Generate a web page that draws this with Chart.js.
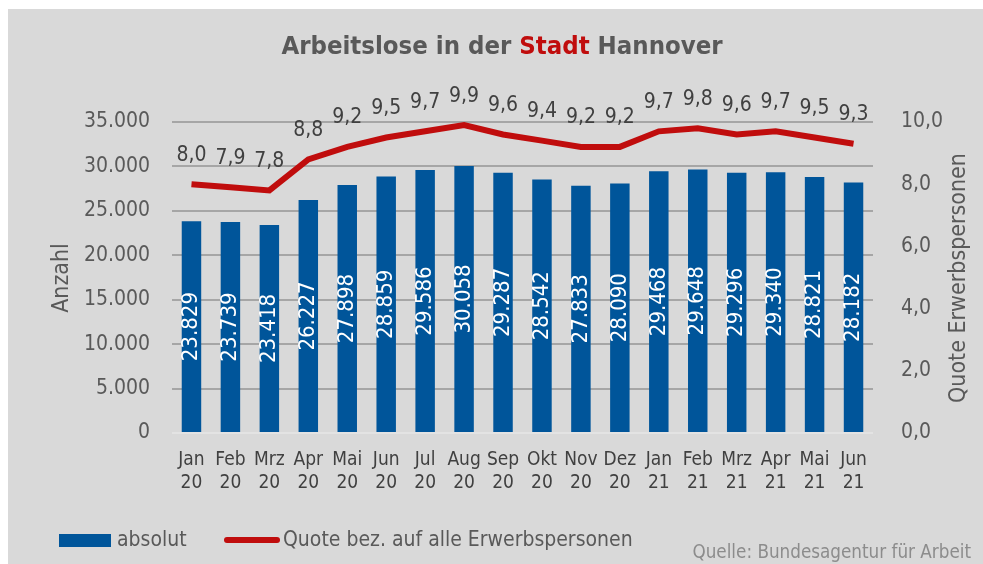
<!DOCTYPE html>
<html>
<head>
<meta charset="utf-8">
<script src="https://cdn.jsdelivr.net/npm/chart.js@4"></script>
<style>
  html, body { margin: 0; padding: 0; background: #fff; }
  #wrap { width: 983px; height: 564px; }
</style>
</head>
<body>
<div id="wrap"><canvas id="chart" width="983" height="564"></canvas></div>
<script>
const months = ['Jan', 'Feb', 'Mrz', 'Apr', 'Mai', 'Jun', 'Jul', 'Aug', 'Sep', 'Okt', 'Nov', 'Dez',
                'Jan', 'Feb', 'Mrz', 'Apr', 'Mai', 'Jun'];
const years = ['20', '20', '20', '20', '20', '20', '20', '20', '20', '20', '20', '20',
               '21', '21', '21', '21', '21', '21'];
const absolut = [23829, 23739, 23418, 26227, 27898, 28859, 29586, 30058, 29287, 28542, 27833, 28090,
                 29468, 29648, 29296, 29340, 28821, 28182];
const quote = [8.0, 7.9, 7.8, 8.8, 9.2, 9.5, 9.7, 9.9, 9.6, 9.4, 9.2, 9.2, 9.7, 9.8, 9.6, 9.7, 9.5, 9.3];

const FONT = '"DejaVu Sans Condensed", "Liberation Sans Narrow", sans-serif';
const BLUE = '#00559a';
const RED = '#c00d0d';
const GREY = '#595959';

const fmtThousands = v => String(v).replace(/\B(?=(\d{3})+(?!\d))/g, '.');
const fmtComma = v => v.toFixed(1).replace('.', ',');

// background, title, axis titles, legend, source
const decor = {
  id: 'decor',
  beforeDraw(chart) {
    const c = chart.ctx;
    c.save();
    c.fillStyle = '#fff';
    c.fillRect(0, 0, chart.width, chart.height);
    c.fillStyle = '#d9d9d9';
    c.fillRect(8, 9, chart.width - 8, chart.height - 9);
    c.restore();
  },
  afterDraw(chart) {
    const c = chart.ctx;
    c.save();
    // title with red word
    c.font = 'bold 25.5px ' + FONT;
    c.textBaseline = 'middle';
    const parts = [['Arbeitslose in der ', GREY], ['Stadt', RED], [' Hannover', GREY]];
    const total = parts.reduce((s, p) => s + c.measureText(p[0]).width, 0);
    let x = 502 - total / 2;
    parts.forEach(p => {
      c.fillStyle = p[1];
      c.textAlign = 'left';
      c.fillText(p[0], x, 47);
      x += c.measureText(p[0]).width;
    });

    // axis titles
    c.font = '23px ' + FONT;
    c.fillStyle = GREY;
    c.textAlign = 'center';
    c.save();
    c.translate(62, 278);
    c.rotate(-Math.PI / 2);
    c.fillText('Anzahl', 0, 0);
    c.restore();
    c.save();
    c.translate(959, 278);
    c.rotate(-Math.PI / 2);
    c.fillText('Quote Erwerbspersonen', 0, 0);
    c.restore();

    // legend
    const ds = chart.data.datasets;
    c.font = '21px ' + FONT;
    c.textAlign = 'left';
    c.fillStyle = ds[0].backgroundColor;
    c.fillRect(59, 534, 52, 13);
    c.fillStyle = GREY;
    c.fillText(ds[0].label, 117, 541);
    c.strokeStyle = ds[1].borderColor;
    c.lineWidth = 6;
    c.lineCap = 'round';
    c.beginPath();
    c.moveTo(227, 540);
    c.lineTo(277, 540);
    c.stroke();
    c.fillText(ds[1].label, 283, 541);

    // source
    c.font = '18.7px ' + FONT;
    c.fillStyle = '#8c8c8c';
    c.textAlign = 'right';
    c.fillText('Quelle: Bundesagentur für Arbeit', 971, 553);
    c.restore();
  }
};

// value labels: rotated inside bars, above line points
const valueLabels = {
  id: 'valueLabels',
  afterDatasetsDraw(chart) {
    const c = chart.ctx;
    c.save();
    c.font = '22px ' + FONT;
    c.textAlign = 'center';
    c.textBaseline = 'middle';
    const bars = chart.getDatasetMeta(0).data;
    c.fillStyle = '#fff';
    bars.forEach((b, i) => {
      c.save();
      c.translate(b.x, (b.y + b.base) / 2);
      c.rotate(-Math.PI / 2);
      c.fillText(fmtThousands(absolut[i]), 0, 0);
      c.restore();
    });
    const pts = chart.getDatasetMeta(1).data;
    c.font = '21px ' + FONT;
    c.fillStyle = '#404040';
    pts.forEach((p, i) => {
      c.fillText(fmtComma(quote[i]), p.x, p.y - 29);
    });
    c.restore();
  }
};

new Chart(document.getElementById('chart'), {
  data: {
    labels: months.map((m, i) => [m, years[i]]),
    datasets: [
      {
        type: 'bar',
        label: 'absolut',
        data: absolut,
        backgroundColor: BLUE,
        categoryPercentage: 1,
        barPercentage: 0.5,
        yAxisID: 'y',
        order: 2
      },
      {
        type: 'line',
        label: 'Quote bez. auf alle Erwerbspersonen',
        data: quote,
        borderColor: RED,
        borderWidth: 6,
        pointRadius: 0,
        tension: 0,
        yAxisID: 'y1',
        order: 1
      }
    ]
  },
  plugins: [decor, valueLabels],
  options: {
    responsive: false,
    animation: false,
    layout: { padding: { top: 122, bottom: 61, left: 0, right: 0 } },
    plugins: {
      legend: { display: false },
      title: { display: false },
      tooltip: { enabled: false }
    },
    scales: {
      x: {
        grid: { display: false },
        border: { display: false },
        ticks: {
          font: { family: FONT, size: 19, lineHeight: 1.2 },
          color: '#404040',
          padding: 8,
          maxRotation: 0,
          autoSkip: false
        },
        afterFit: s => { s.height = 70; }
      },
      y: {
        position: 'left',
        min: 0,
        max: 35000,
        grid: {
          color: ctx => ctx.tick && ctx.tick.value === 0 ? '#e3e3e3' : '#a6a6a6',
          lineWidth: 2,
          drawTicks: false
        },
        border: { display: false },
        ticks: {
          stepSize: 5000,
          font: { family: FONT, size: 21 },
          color: GREY,
          padding: 22,
          callback: v => fmtThousands(v)
        },
        afterFit: s => { s.width = 172; }
      },
      y1: {
        position: 'right',
        min: 0,
        max: 10,
        grid: { display: false },
        border: { display: false },
        ticks: {
          stepSize: 2,
          font: { family: FONT, size: 21 },
          color: GREY,
          padding: 20,
          callback: v => fmtComma(v)
        },
        afterFit: s => { s.width = 110; }
      }
    }
  }
});
</script>
</body>
</html>
